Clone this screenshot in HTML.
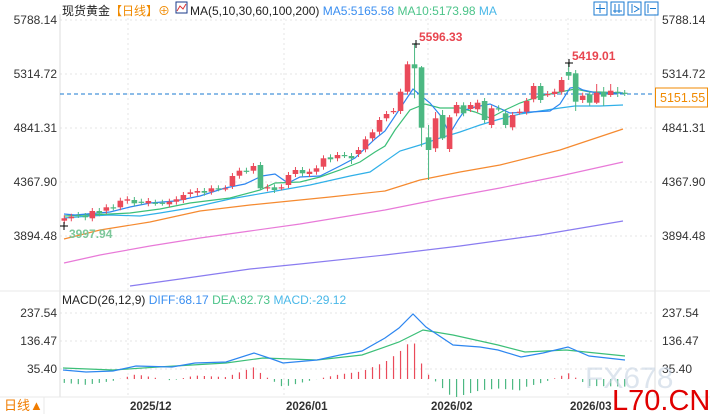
<!DOCTYPE html>
<html><head><meta charset="utf-8"><style>
body{margin:0;background:#fff;width:710px;height:414px;overflow:hidden;font-family:"Liberation Sans","Noto Sans CJK SC",sans-serif}
svg{position:absolute;left:0;top:0}
</style></head><body>
<svg id="s" width="710" height="414" xmlns="http://www.w3.org/2000/svg" font-family="Liberation Sans, Noto Sans CJK SC, sans-serif">
<g stroke="#e4e4e4" stroke-dasharray="2,3" stroke-width="1">
<line x1="60" y1="20" x2="655" y2="20"/><line x1="60" y1="74" x2="655" y2="74"/><line x1="60" y1="128" x2="655" y2="128"/><line x1="60" y1="182" x2="655" y2="182"/><line x1="60" y1="236" x2="655" y2="236"/>
<line x1="60" y1="313" x2="655" y2="313"/><line x1="60" y1="341" x2="655" y2="341"/><line x1="60" y1="369" x2="655" y2="369"/>
<line x1="128" y1="18" x2="128" y2="397"/><line x1="284" y1="18" x2="284" y2="397"/><line x1="428" y1="18" x2="428" y2="397"/><line x1="568" y1="18" x2="568" y2="397"/>
</g>
<line x1="60" y1="14" x2="60" y2="397" stroke="#ddd"/><line x1="655" y1="14" x2="655" y2="397" stroke="#ddd"/>
<line x1="0" y1="291" x2="710" y2="291" stroke="#e8e8e8"/>
<line x1="0" y1="397" x2="710" y2="397" stroke="#e8e8e8"/>
<line x1="44" y1="397" x2="44" y2="414" stroke="#e8e8e8"/>
<g font-size="12" fill="#333">
<text x="57" y="24" text-anchor="end">5788.14</text><text x="57" y="78" text-anchor="end">5314.72</text><text x="57" y="132" text-anchor="end">4841.31</text><text x="57" y="186" text-anchor="end">4367.90</text><text x="57" y="240" text-anchor="end">3894.48</text>
<text x="662" y="24">5788.14</text><text x="662" y="78">5314.72</text><text x="662" y="132">4841.31</text><text x="662" y="186">4367.90</text><text x="662" y="240">3894.48</text>
<text x="57" y="317" text-anchor="end">237.54</text><text x="57" y="345" text-anchor="end">136.47</text><text x="57" y="373" text-anchor="end">35.40</text>
<text x="662" y="317">237.54</text><text x="662" y="345">136.47</text><text x="662" y="373">35.40</text>
</g>
<g font-size="11.5" font-weight="bold" fill="#333">
<text x="130" y="410">2025/12</text><text x="286" y="410">2026/01</text><text x="431" y="410">2026/02</text><text x="570" y="410">2026/03</text>
</g>
<text x="4" y="410" font-size="13" fill="#f07c00">日线▲</text>
<text x="62" y="15" font-size="12"><tspan fill="#222">现货黄金</tspan><tspan fill="#f08a00">【日线】</tspan><tspan fill="#f08a00">⊕</tspan></text>
<rect x="176" y="2" width="11" height="11" fill="none" stroke="#1a3a8a"/>
<polyline points="177,11 180,6 183,9 186,4" fill="none" stroke="#d33"/>
<text x="190" y="15" font-size="12"><tspan fill="#222">MA(5,10,30,60,100,200) </tspan><tspan fill="#3a8ef0">MA5:5165.58 </tspan><tspan fill="#4cc48a"> MA10:5173.98 </tspan><tspan fill="#4ab8e8"> MA</tspan></text>
<g fill="none" stroke="#1a7ad0">
<rect x="594" y="2" width="13" height="13"/><rect x="611" y="2" width="13" height="13"/><rect x="628" y="2" width="13" height="13"/><rect x="645" y="2" width="13" height="13"/>
<path d="M600 4v9M596 8.5h9M615 4v9M619 4v9M613 11h9M632 4v9M634 6l5 3-5 3M648 4v9M650 8.5h6"/>
</g>
<line x1="60" y1="94" x2="655" y2="94" stroke="#1a7ad0" stroke-dasharray="4,3"/>
<rect x="655.5" y="88" width="52" height="19" fill="#fff" stroke="#f08a00"/>
<text x="660" y="102" font-size="12.5" fill="#f08a00">5151.55</text>
<text x="62" y="304" font-size="12"><tspan fill="#222">MACD(26,12,9) </tspan><tspan fill="#3a8ef0">DIFF:68.17 </tspan><tspan fill="#4cc48a"> DEA:82.73 </tspan><tspan fill="#4ab8e8"> MACD:-29.12</tspan></text>
<g id="lines"></g><g id="c"></g>
<g font-size="12" font-weight="bold">
<text x="419" y="41" fill="#e8454f">5596.33</text><text x="572" y="60" fill="#e8454f">5419.01</text><text x="69" y="238" fill="#7cc79a">3997.94</text>
</g>
<path d="M412 44h8M416 40v8M565 63h8M569 59v8M60 226h8M64 222v8" stroke="#000"/>
<text x="585" y="388" font-size="30" fill="#c8d4e4" opacity="0.6">FX678</text>
<text x="612" y="410" font-size="29" fill="#e00000">L70.CN</text>
</svg>
<script>
var NS="http://www.w3.org/2000/svg",s=document.getElementById('s'),C=document.getElementById('c'),L=document.getElementById('lines');
function el(t,a,p){var e=document.createElementNS(NS,t);for(var k in a)e.setAttribute(k,a[k]);(p||C).appendChild(e);return e;}
function pl(pts,col){el('polyline',{points:pts.map(function(p){return p.join(',')}).join(' '),fill:'none',stroke:col,'stroke-width':1.2},L);}
pl([[130,286],[180,279],[250,269],[300,264],[385,255],[460,246],[540,235],[623,221]],'#8a7cf0');
pl([[64,263],[100,255],[150,246],[200,238],[250,231],[300,224],[385,210],[440,199],[500,188],[560,176],[623,162]],'#e87ad8');
pl([[64,239],[100,230],[150,222],[200,211],[250,205],[300,200],[330,197],[385,191],[420,180],[460,172],[500,165],[560,150],[623,129]],'#f58a30');
pl([[64,218],[90,216],[110,215],[140,216],[160,213],[190,208],[230,199],[270,192],[310,185],[350,176],[370,172],[400,151],[420,145],[440,138],[460,132],[480,125],[500,119],[520,114],[540,111],[560,108],[575,106],[600,106],[623,105]],'#30b0e8');
pl([[64,216],[110,214],[130,213],[160,209],[190,203],[230,198],[260,190],[275,183],[300,182],[320,177],[340,170],[360,162],[375,152],[385,146],[395,130],[410,110],[425,104],[440,108],[460,108],[475,112],[490,118],[505,110],[520,103],[540,96],[560,92],[575,89],[590,92],[600,92],[623,93]],'#3cbf78');
pl([[64,214],[75,215],[110,212],[130,207],[150,203],[175,201],[200,196],[225,188],[245,184],[262,176],[275,174],[285,181],[290,182],[300,177],[320,176],[340,166],[355,158],[375,139],[385,131],[413,89],[430,103],[440,115],[448,130],[452,130],[458,120],[465,110],[475,107],[490,104],[510,113],[530,112],[550,111],[560,104],[570,88],[577,87],[583,90],[597,93],[623,93]],'#2d86f0');
var d=[[218.3,220.7,'r'],[216.7,218.3,'r'],[215,215,'g'],[216,217.3,'g'],[211,218.3,'r'],[211,213.3,'g'],[207.3,210.7,'r'],[207.3,207.3,'g'],[200.7,207.3,'r'],[199.3,200.7,'r'],[200,203.3,'g'],[201.7,201.7,'g'],[201,203.3,'r'],[202.7,202.7,'g'],[202.7,202.7,'g'],[201.7,204.3,'r'],[199.3,201.7,'r'],[195,200,'r'],[192.3,194,'r'],[191,192.7,'r'],[191,192.7,'g'],[188.3,191.7,'r'],[188.3,188.3,'g'],[188.3,188.3,'r'],[176,186,'r'],[170.7,175.7,'r'],[170.7,170.7,'g'],[166,170.7,'r'],[165,188.3,'g',162,190],[187.3,188.3,'r'],[187.3,190,'g'],[187.3,187.3,'r'],[175,185,'r'],[170,174,'r'],[170,173.3,'g'],[171.7,174,'r'],[168.3,171.7,'r'],[158.3,166.7,'r'],[157.3,159.3,'g'],[155,158.3,'r'],[155,155,'g'],[156,158.3,'g',153,164],[150,154,'r'],[139.3,149.3,'r'],[132.3,138.3,'r'],[120,131.7,'r'],[114,118.3,'r'],[111,111,'r'],[91.7,111,'r'],[64.3,91.7,'r'],[64.3,68.3,'g',43.3,98.3],[67.3,127.7,'g',66,146.7],[137.3,150,'g',125,180],[118.3,148.3,'r',112,152],[115,138.3,'g',110,140],[117.3,149,'r',115,152],[105,113.3,'r'],[105.3,113.3,'g'],[105,109,'r'],[102.7,109.3,'r'],[101,120,'g'],[108.3,125,'r'],[108.3,108.3,'g'],[113.3,125,'g',110,128],[115,127.3,'r'],[111.7,111.7,'r'],[101,111.7,'r'],[86,99.3,'r'],[86,100,'g'],[94,94,'r'],[91.7,94,'r'],[80,91.7,'r'],[72,75.7,'g',63.3,80],[73.3,101.7,'g',70,111],[95.7,100,'r'],[94.3,102.7,'g'],[92.7,102.7,'r',84,104],[91.7,96.7,'g',87,106],[90.7,95,'r',84,97],[91.7,91.7,'g',87,97],[92.7,92.7,'g',90,96]];
d.forEach(function(c,i){var x=64.3+i*7.005,col=c[2]=='r'?'#ea4a5a':'#4cb882',hi=c[3]||c[0]-3,lo=c[4]||c[1]+3;
el('line',{x1:x,y1:hi,x2:x,y2:lo,stroke:col,'stroke-width':1});
var h=Math.max(c[1]-c[0],1.2);el('rect',{x:x-2.8,y:c[0],width:5.6,height:h,fill:col});});
var diff=[[63,370],[86,372],[113,371],[136,366],[172,367],[195,363],[226,362],[254,353],[272,359],[283,363],[317,360],[340,355],[362,351],[385,338],[399,328],[413,314],[426,327],[453,345],[480,347],[498,350],[521,357],[543,353],[568,347],[589,356],[625,360]];
var dea=[[63,368],[113,370],[158,367],[226,363],[263,358],[317,360],[362,355],[399,342],[423,330],[453,335],[498,345],[525,352],[566,350],[625,356]];
function itp(a,x){for(var i=0;i<a.length-1;i++){if(x<=a[i+1][0]){var t=(x-a[i][0])/(a[i+1][0]-a[i][0]);return a[i][1]+t*(a[i+1][1]-a[i][1]);}}return a[a.length-1][1];}
for(var i=0;i<81;i++){var x=64.3+i*7.005,v=(itp(dea,x)-itp(diff,x))*1.9,col=v>0?'#ea4a5a':'#4cb882';
el('line',{x1:x,y1:379,x2:x,y2:379-v,stroke:col,'stroke-width':1.2});}
el('polyline',{points:dea.map(function(p){return p.join(',')}).join(' '),fill:'none',stroke:'#3cbf78','stroke-width':1.2});
el('polyline',{points:diff.map(function(p){return p.join(',')}).join(' '),fill:'none',stroke:'#2d86f0','stroke-width':1.2});
</script>
</body></html>
